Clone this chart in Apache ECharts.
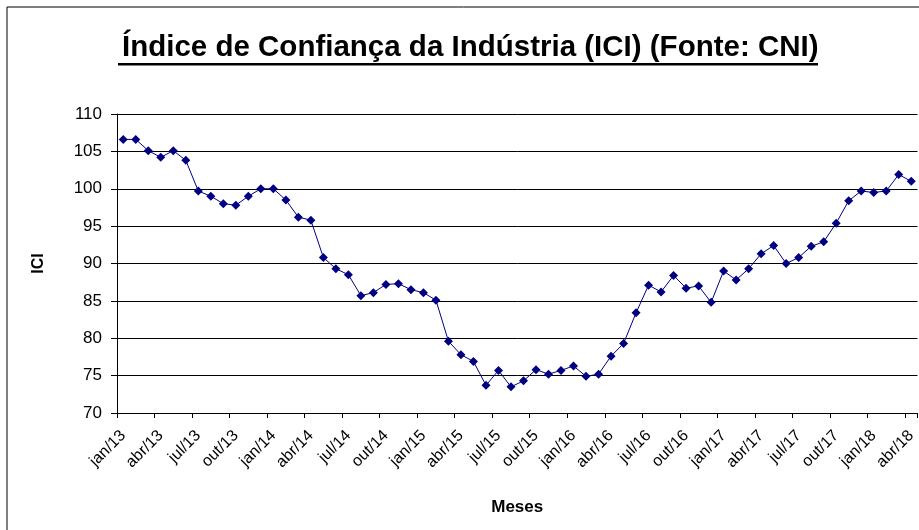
<!DOCTYPE html>
<html>
<head>
<meta charset="utf-8">
<script src="https://cdn.jsdelivr.net/npm/echarts@6/dist/echarts.min.js"></script>
<style>
html,body{margin:0;padding:0;background:#fff;}
#chart{width:919px;height:530px;}
</style>
</head>
<body>
<div id="chart"></div>
<script>
const years = ['13','14','15','16','17','18'];
const monthNames = ['jan','fev','mar','abr','mai','jun','jul','ago','set','out','nov','dez'];
const categories = [];
for (const y of years) {
  for (const m of monthNames) {
    categories.push(m + '/' + y);
    if (y === '18' && m === 'abr') break;
  }
}
const iciValues = [
  106.6, 106.6, 105.1, 104.2, 105.1, 103.8, 99.7, 99.0, 98.0, 97.8, 99.0, 100.0,
  100.0, 98.5, 96.2, 95.8, 90.8, 89.3, 88.5, 85.7, 86.1, 87.2, 87.3, 86.5,
  86.1, 85.1, 79.6, 77.8, 76.9, 73.7, 75.7, 73.5, 74.3, 75.8, 75.2, 75.7,
  76.3, 74.9, 75.2, 77.6, 79.3, 83.4, 87.1, 86.2, 88.4, 86.7, 87.0, 84.8,
  89.0, 87.8, 89.3, 91.3, 92.4, 90.0, 90.8, 92.3, 92.9, 95.4, 98.4, 99.7,
  99.5, 99.7, 101.9, 101.0
];
const yTicks = [70, 75, 80, 85, 90, 95, 100, 105, 110];

const FONT = 'Liberation Sans, Arial, sans-serif';
const chart = echarts.init(document.getElementById('chart'), null, {renderer: 'canvas'});
chart.setOption({
  animation: false,
  backgroundColor: '#ffffff',
  title: {
    text: 'Índice de Confiança da Indústria (ICI) (Fonte: CNI)',
    left: 117,
    top: 28,
    textStyle: {fontFamily: FONT, fontWeight: 'bold', fontSize: 29.5, color: '#000'}
  },
  graphic: [
    {type: 'rect', shape: {x: 7, y: 7, width: 1000, height: 1000}, style: {fill: 'none', stroke: '#000', lineWidth: 1}, z: -1},
    {type: 'rect', shape: {x: 118, y: 63, width: 700, height: 2.5}, style: {fill: '#000'}}
  ],
  grid: {left: 117, right: 1, top: 114, bottom: 117, containLabel: false},
  xAxis: {
    type: 'category',
    data: categories,
    boundaryGap: true,
    name: 'Meses',
    nameLocation: 'middle',
    nameGap: 86,
    nameTextStyle: {fontFamily: FONT, fontWeight: 'bold', fontSize: 17, color: '#000'},
    axisLine: {lineStyle: {color: '#000', width: 1}},
    axisTick: {show: true, interval: 2, length: 5, lineStyle: {color: '#000'}},
    axisLabel: {interval: 2, rotate: 45, fontFamily: FONT, fontSize: 16, color: '#000', margin: 20},
    splitLine: {show: false}
  },
  yAxis: {
    type: 'value',
    min: yTicks[0],
    max: yTicks[yTicks.length - 1],
    interval: 5,
    name: 'ICI',
    nameLocation: 'middle',
    nameGap: 70,
    nameRotate: 90,
    nameTextStyle: {fontFamily: FONT, fontWeight: 'bold', fontSize: 16, color: '#000'},
    axisLine: {show: true, lineStyle: {color: '#000', width: 1}},
    axisTick: {show: true, length: 6, lineStyle: {color: '#000'}},
    axisLabel: {fontFamily: FONT, fontSize: 17, color: '#000', margin: 15},
    splitLine: {show: true, lineStyle: {color: '#000', width: 1}}
  },
  series: [{
    type: 'line',
    data: iciValues,
    symbol: 'diamond',
    symbolSize: 9,
    showAllSymbol: true,
    lineStyle: {color: '#000080', width: 1},
    itemStyle: {color: '#000080'}
  }]
});
</script>
</body>
</html>
